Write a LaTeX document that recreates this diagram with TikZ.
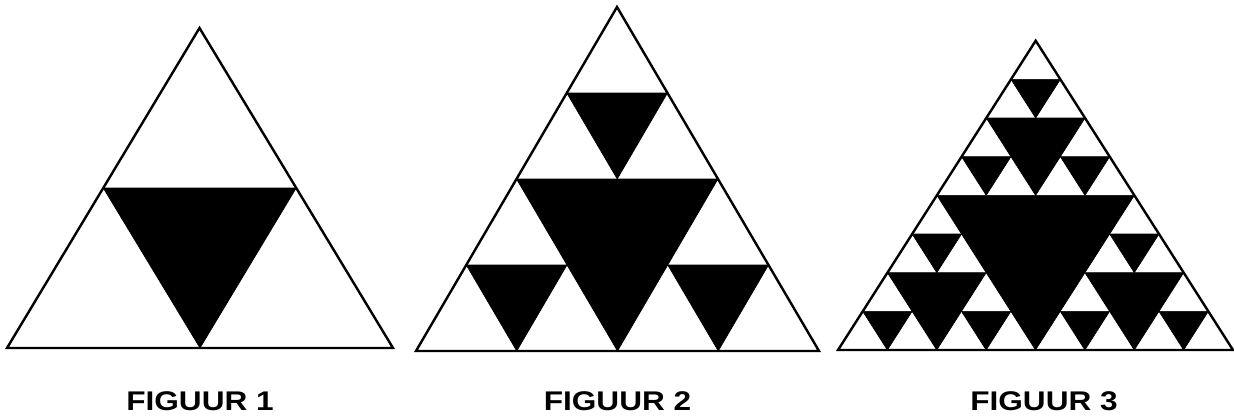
\documentclass[tikz,border=0pt]{standalone}
\usepackage{fontspec}
\setmainfont{Liberation Sans}

\begin{document}
\begin{tikzpicture}[
            x=1pt, y=1pt,
            frame/.style={
                draw,
                line width=2.4pt,
                line join=miter
            },
            hole/.style={
                fill=black,
                draw=black,
                line width=0.6pt,
                line join=round
            },
            caption/.style={
                anchor=base,
                inner sep=0pt,
                font=\fontsize{27}{30}\selectfont\bfseries
            }
        ]
            \useasboundingbox (0,0) rectangle (1234,416);

            % figuur 1
            \begin{scope}[shift={(7,68)}, x={(386pt,0pt)}, y={(192.5pt,320pt)}]
                \draw[frame] (0,0) -- (1,0) -- (0,1) -- cycle;
                \fill[hole] (0.5,0) -- ++(-0.5,0.5) -- ++(0.5,0) -- cycle;
            \end{scope}

            % figuur 2
            \begin{scope}[shift={(416,65)}, x={(403pt,0pt)}, y={(201pt,344pt)}]
                \foreach \u/\v/\s in {
                    0.5/0/0.5,
                    0.25/0/0.25, 0.75/0/0.25, 0.25/0.5/0.25
                } {
                    \fill[hole] (\u,\v) -- ++(-\s,\s) -- ++(\s,0) -- cycle;
                }
                \draw[frame] (0,0) -- (1,0) -- (0,1) -- cycle;
            \end{scope}

            % figuur 3
            \begin{scope}[shift={(838,66)}, x={(395pt,0pt)}, y={(197.7pt,309.3pt)}]
                \foreach \u/\v/\s in {
                    0.5/0/0.5,
                    0.25/0/0.25, 0.75/0/0.25, 0.25/0.5/0.25,
                    0.125/0/0.125, 0.375/0/0.125, 0.125/0.25/0.125,
                    0.625/0/0.125, 0.875/0/0.125, 0.625/0.25/0.125,
                    0.125/0.5/0.125, 0.375/0.5/0.125, 0.125/0.75/0.125
                } {
                    \fill[hole] (\u,\v) -- ++(-\s,\s) -- ++(\s,0) -- cycle;
                }
                \draw[frame] (0,0) -- (1,0) -- (0,1) -- cycle;
            \end{scope}

            \node[caption] (fig1) at (200,5.3) {\scalebox{1.17}[1]{FIGUUR 1}};
            \node[caption] (fig2) at (617.5,5.3) {\scalebox{1.17}[1]{FIGUUR 2}};
            \node[caption] (fig3) at (1044,5.3) {\scalebox{1.17}[1]{FIGUUR 3}};
        \end{tikzpicture}
\end{document}
